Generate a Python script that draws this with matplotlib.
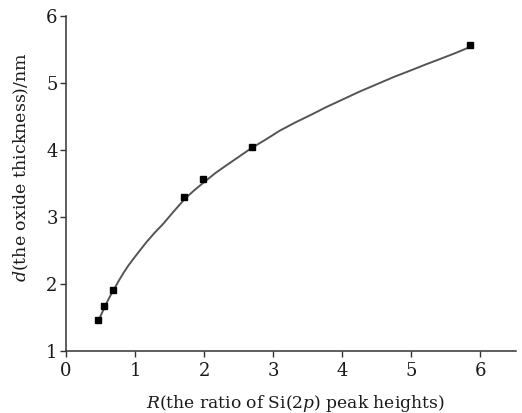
import matplotlib
matplotlib.use("Agg")
import matplotlib.pyplot as plt

# measured points
R_pts = [0.46, 0.555, 0.685, 1.706, 1.985, 2.70, 5.86]
d_pts = [1.47, 1.67, 1.91, 3.30, 3.56, 4.04, 5.57]

# fitted curve
R_fit = [0.49, 0.54, 0.60, 0.65, 0.69, 0.76, 0.83, 0.90, 0.98, 1.07, 1.17, 1.28,
         1.41, 1.55, 1.72, 1.86, 2.0, 2.17, 2.35, 2.52, 2.69, 2.9,
         3.1, 3.32, 3.54, 3.77, 4.0, 4.25, 4.5, 4.75, 5.0, 5.22, 5.45, 5.65, 5.86]
d_fit = [1.50, 1.61, 1.74, 1.84, 1.91, 2.04, 2.16, 2.27, 2.38, 2.50, 2.63, 2.76,
         2.90, 3.07, 3.27, 3.40, 3.52, 3.66, 3.79, 3.91, 4.03, 4.16,
         4.29, 4.41, 4.52, 4.64, 4.75, 4.87, 4.98, 5.09, 5.19, 5.28, 5.37, 5.45, 5.54]

x_ticks = [0, 1, 2, 3, 4, 5, 6]
y_ticks = [1, 2, 3, 4, 5, 6]

plt.rcParams['font.family'] = ['DejaVu Serif']
plt.rcParams['mathtext.fontset'] = 'dejavuserif'

fig = plt.figure(figsize=(5.22, 4.13), dpi=100)
ax = fig.add_axes([66/522, 1-351/413, 450/522, 335/413])

ax.plot(R_fit, d_fit, color='#555555', lw=1.4, zorder=2, solid_joinstyle='round')
ax.plot(R_pts, d_pts, ls='none', marker='s', ms=4.2, color='black', zorder=3)

ax.set_xlim(0, 6.52)
ax.set_ylim(1, 6)
ax.set_xticks(x_ticks)
ax.set_yticks(y_ticks)
for s in ['top', 'right']:
    ax.spines[s].set_visible(False)
for s in ['left', 'bottom']:
    ax.spines[s].set_color('#333333')
    ax.spines[s].set_linewidth(1.1)
ax.tick_params(direction='out', length=4, width=1.0, color='#333333',
               labelsize=13, labelcolor='#1a1a1a')
ax.tick_params(axis='x', pad=4)
ax.tick_params(axis='y', pad=2)

ax.set_xlabel(r'$R$(the ratio of Si(2$p$) peak heights)', fontsize=12.3, color='#1a1a1a')
ax.set_ylabel(r'$d$(the oxide thickness)/nm', fontsize=12.5, color='#1a1a1a')
ax.xaxis.set_label_coords(0.51, -0.125)
ax.yaxis.set_label_coords(-0.078, 0.55)

fig.savefig('out.png', dpi=100)
